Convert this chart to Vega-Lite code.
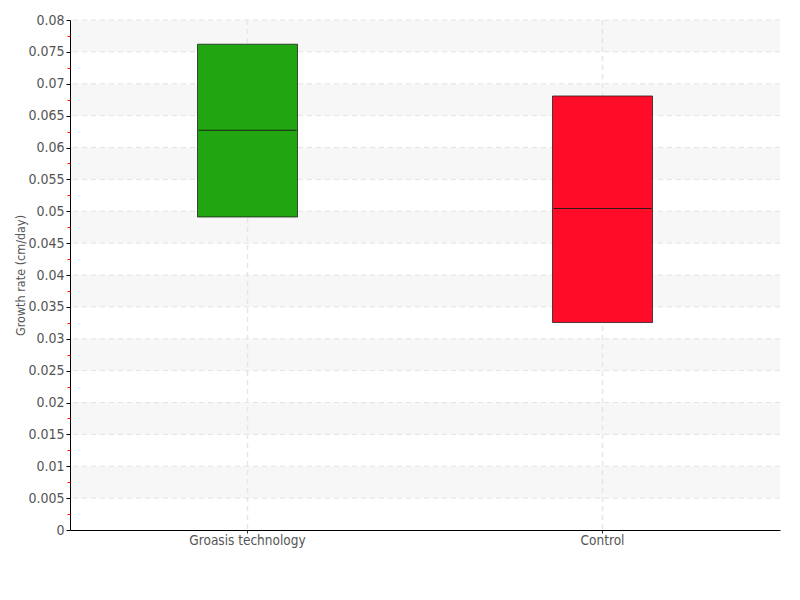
{
  "$schema": "https://vega.github.io/schema/vega-lite/v6.json",
  "width": 710,
  "height": 510,
  "autosize": "none",
  "padding": {"left": 70, "top": 20, "right": 20, "bottom": 70},
  "config": {
    "view": {"stroke": null},
    "font": "DejaVu Sans Condensed",
    "axis": {"labelFont": "DejaVu Sans Condensed", "titleFont": "DejaVu Sans Condensed", "labelColor": "#555555", "titleColor": "#555555", "labelFontWeight": "normal", "titleFontWeight": "normal", "grid": false}
  },
  "datasets": {
    "boxes": [
      {"group": "Groasis technology", "low": 0.0491, "median": 0.0627, "high": 0.0762},
      {"group": "Control", "low": 0.03255, "median": 0.05043, "high": 0.06808}
    ],
    "bands": [
      {"lo": 0.075, "hi": 0.08},
      {"lo": 0.065, "hi": 0.07},
      {"lo": 0.055, "hi": 0.06},
      {"lo": 0.045, "hi": 0.05},
      {"lo": 0.035, "hi": 0.04},
      {"lo": 0.025, "hi": 0.03},
      {"lo": 0.015, "hi": 0.02},
      {"lo": 0.005, "hi": 0.01}
    ],
    "grid": [
      {"v": 0.005}, {"v": 0.01}, {"v": 0.015}, {"v": 0.02}, {"v": 0.025}, {"v": 0.03}, {"v": 0.035}, {"v": 0.04},
      {"v": 0.045}, {"v": 0.05}, {"v": 0.055}, {"v": 0.06}, {"v": 0.065}, {"v": 0.07}, {"v": 0.075}, {"v": 0.08}
    ]
  },
  "resolve": {"axis": {"y": "independent"}},
  "layer": [
    {
      "data": {"name": "bands"},
      "mark": {"type": "rect", "color": "#f7f7f7"},
      "encoding": {
        "y": {"field": "lo", "type": "quantitative", "scale": {"domain": [0, 0.08], "nice": false},
          "axis": {"orient": "left", "title": "Growth rate (cm/day)", "titleFontSize": 12.5, "labelFontSize": 14, "format": "~g", "values": [0, 0.005, 0.01, 0.015, 0.02, 0.025, 0.03, 0.035, 0.04, 0.045, 0.05, 0.055, 0.06, 0.065, 0.07, 0.075, 0.08], "domainColor": "#000000", "tickColor": "#000000", "tickSize": 4, "labelPadding": 2, "titlePadding": 0, "zindex": 1}},
        "y2": {"field": "hi"}
      }
    },
    {
      "data": {"name": "grid"},
      "mark": {"type": "rule", "color": "#e3e3e3", "strokeDash": [5, 4], "strokeWidth": 1},
      "encoding": {
        "y": {"field": "v", "type": "quantitative", "axis": {"orient": "left", "title": null, "labels": false, "domain": false, "ticks": false}}
      }
    },
    {
      "data": {"name": "boxes"},
      "mark": {"type": "rule", "color": "#e6e6e6", "strokeDash": [5, 4], "strokeWidth": 1.5},
      "encoding": {
        "x": {"field": "group", "type": "nominal", "sort": ["Groasis technology", "Control"],
          "axis": {"title": null, "labelAngle": 0, "labelAlign": "center", "labelBaseline": "top", "labelFontSize": 13.5, "domainColor": "#000000", "tickColor": "#333333", "tickSize": 3, "labelPadding": 0, "zindex": 1}}
      }
    },
    {
      "data": {"name": "boxes"},
      "mark": {"type": "bar", "size": 100, "stroke": "#1a1a1a", "strokeOpacity": 0.75, "strokeWidth": 1},
      "encoding": {
        "x": {"field": "group", "type": "nominal", "sort": ["Groasis technology", "Control"],
          "scale": {"paddingInner": 0, "paddingOuter": 0},
          "axis": {"title": null, "labelAngle": 0, "labelAlign": "center", "labelBaseline": "top", "labelFontSize": 13.5, "domainColor": "#000000", "tickColor": "#333333", "tickSize": 3, "labelPadding": 0, "zindex": 1}},
        "y": {"field": "low", "type": "quantitative", "axis": {"orient": "left", "title": null, "labels": false, "domain": false, "ticks": false}},
        "y2": {"field": "high"},
        "color": {"field": "group", "type": "nominal", "scale": {"domain": ["Groasis technology", "Control"], "range": ["#21a511", "#ff0d28"]}, "legend": null}
      }
    },
    {
      "data": {"name": "boxes"},
      "mark": {"type": "tick", "size": 98, "thickness": 1, "color": "#1a1a1a", "opacity": 0.9},
      "encoding": {
        "x": {"field": "group", "type": "nominal", "sort": ["Groasis technology", "Control"]},
        "y": {"field": "median", "type": "quantitative",
          "axis": {"orient": "left", "title": null, "labels": false, "domain": false, "tickColor": "#ff0000", "tickSize": 3, "tickWidth": 1, "values": [0.0025, 0.0075, 0.0125, 0.0175, 0.0225, 0.0275, 0.0325, 0.0375, 0.0425, 0.0475, 0.0525, 0.0575, 0.0625, 0.0675, 0.0725, 0.0775], "zindex": 1}}
      }
    }
  ]
}
